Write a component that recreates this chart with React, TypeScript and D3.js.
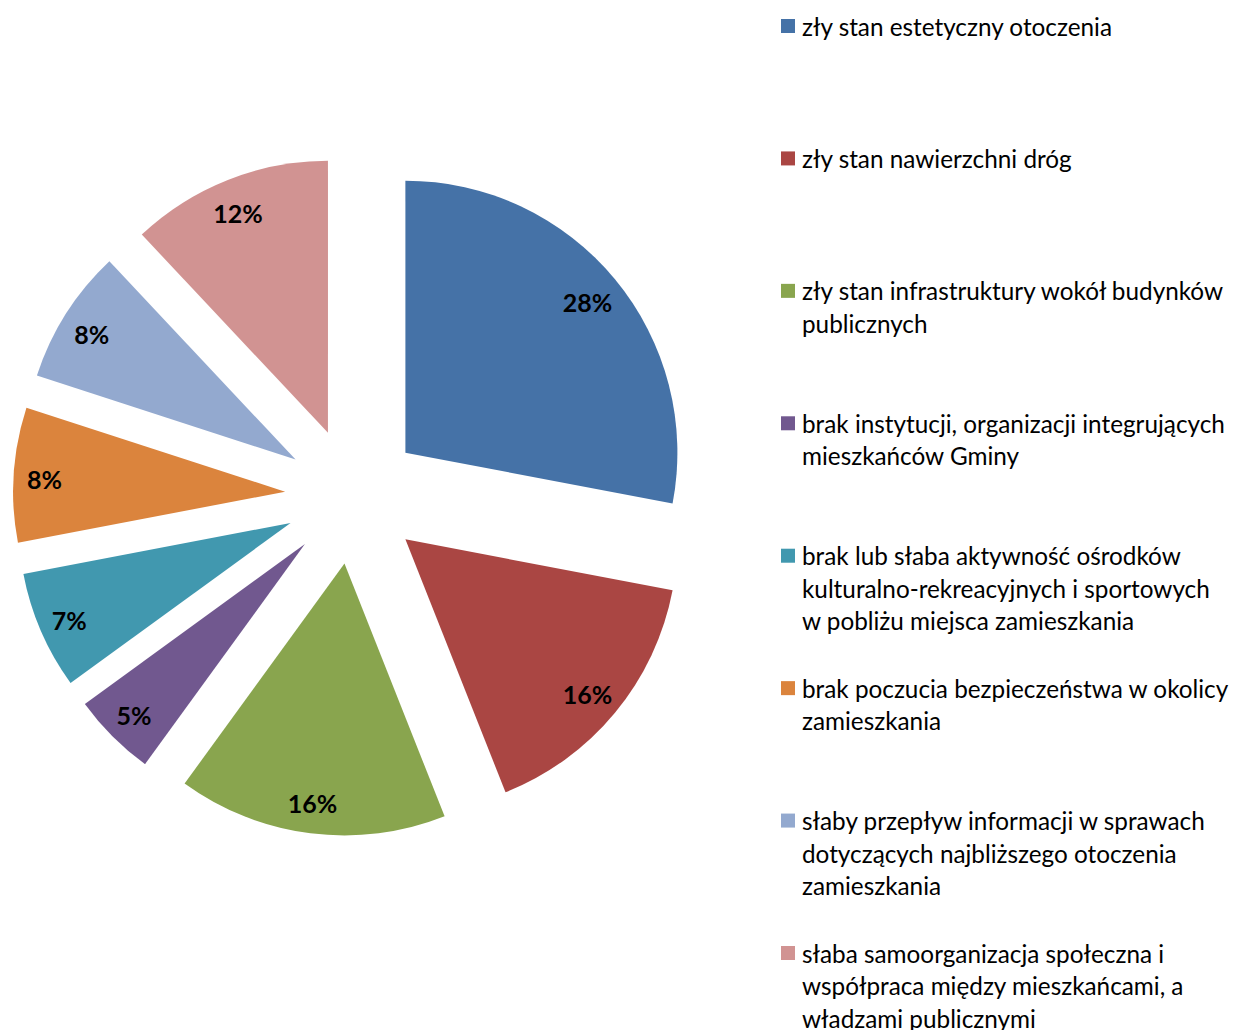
import React from "react";
import * as d3 from "d3";

const categories: string[][] = [
  ["zły stan estetyczny otoczenia"],
  ["zły stan nawierzchni dróg"],
  ["zły stan infrastruktury wokół budynków", "publicznych"],
  ["brak instytucji, organizacji integrujących", "mieszkańców Gminy"],
  ["brak lub słaba aktywność ośrodków", "kulturalno-rekreacyjnych i sportowych", "w pobliżu miejsca zamieszkania"],
  ["brak poczucia bezpieczeństwa w okolicy", "zamieszkania"],
  ["słaby przepływ informacji w sprawach", "dotyczących najbliższego otoczenia", "zamieszkania"],
  ["słaba samoorganizacja społeczna i", "współpraca między mieszkańcami, a", "władzami publicznymi"],
];
const values: number[] = [28, 16, 16, 5, 7, 8, 8, 12];
const colors: string[] = ["#4572A7", "#AA4643", "#89A54E", "#71588F", "#4198AF", "#DB843D", "#93A9CF", "#D19392"];

const W = 1240;
const H = 1030;
const cx = 353;
const cy = 496;
const R = 272;
const explode = 68;
const labelDist = 239;
const FONT = "Lato, 'Open Sans', sans-serif";

export default function App() {
  const pie = d3.pie<number>().sort(null).value((d) => d);
  const arcs = pie(values);
  const arcGen = d3.arc<d3.PieArcDatum<number>>().innerRadius(0).outerRadius(R);
  const total = d3.sum(values);
  const fmt = d3.format(".0%");

  const legendY = d3.scaleLinear().domain([0, categories.length - 1]).range([26, 953]);
  const lineH = 32.5;

  return (
    <svg width={W} height={H} style={{ position: "absolute", left: 0, top: 0, background: "#fff" }}>
      <g>
        {arcs.map((a, i) => {
          const mid = (a.startAngle + a.endAngle) / 2;
          const dx = Math.sin(mid);
          const dy = -Math.cos(mid);
          const vx = cx + explode * dx;
          const vy = cy + explode * dy;
          return (
            <g key={i} transform={`translate(${vx},${vy})`}>
              <path d={arcGen(a) || ""} fill={colors[i]} />
              <text
                x={labelDist * dx - 2}
                y={labelDist * dy + 2}
                textAnchor="middle"
                dominantBaseline="central"
                fontFamily={FONT}
                fontWeight="bold"
                fontSize={25}
                fill="#000"
              >
                {fmt(values[i] / total)}
              </text>
            </g>
          );
        })}
      </g>
      <g>
        {categories.map((lines, i) => {
          const y0 = legendY(i);
          return (
            <g key={i}>
              <rect x={781} y={y0 - 7} width={14} height={14} fill={colors[i]} />
              {lines.map((ln, j) => (
                <text
                  key={j}
                  x={802}
                  y={y0 + j * lineH}
                  dominantBaseline="central"
                  fontFamily={FONT}
                  fontSize={24.3}
                  fill="#000"
                >
                  {ln}
                </text>
              ))}
            </g>
          );
        })}
      </g>
    </svg>
  );
}
